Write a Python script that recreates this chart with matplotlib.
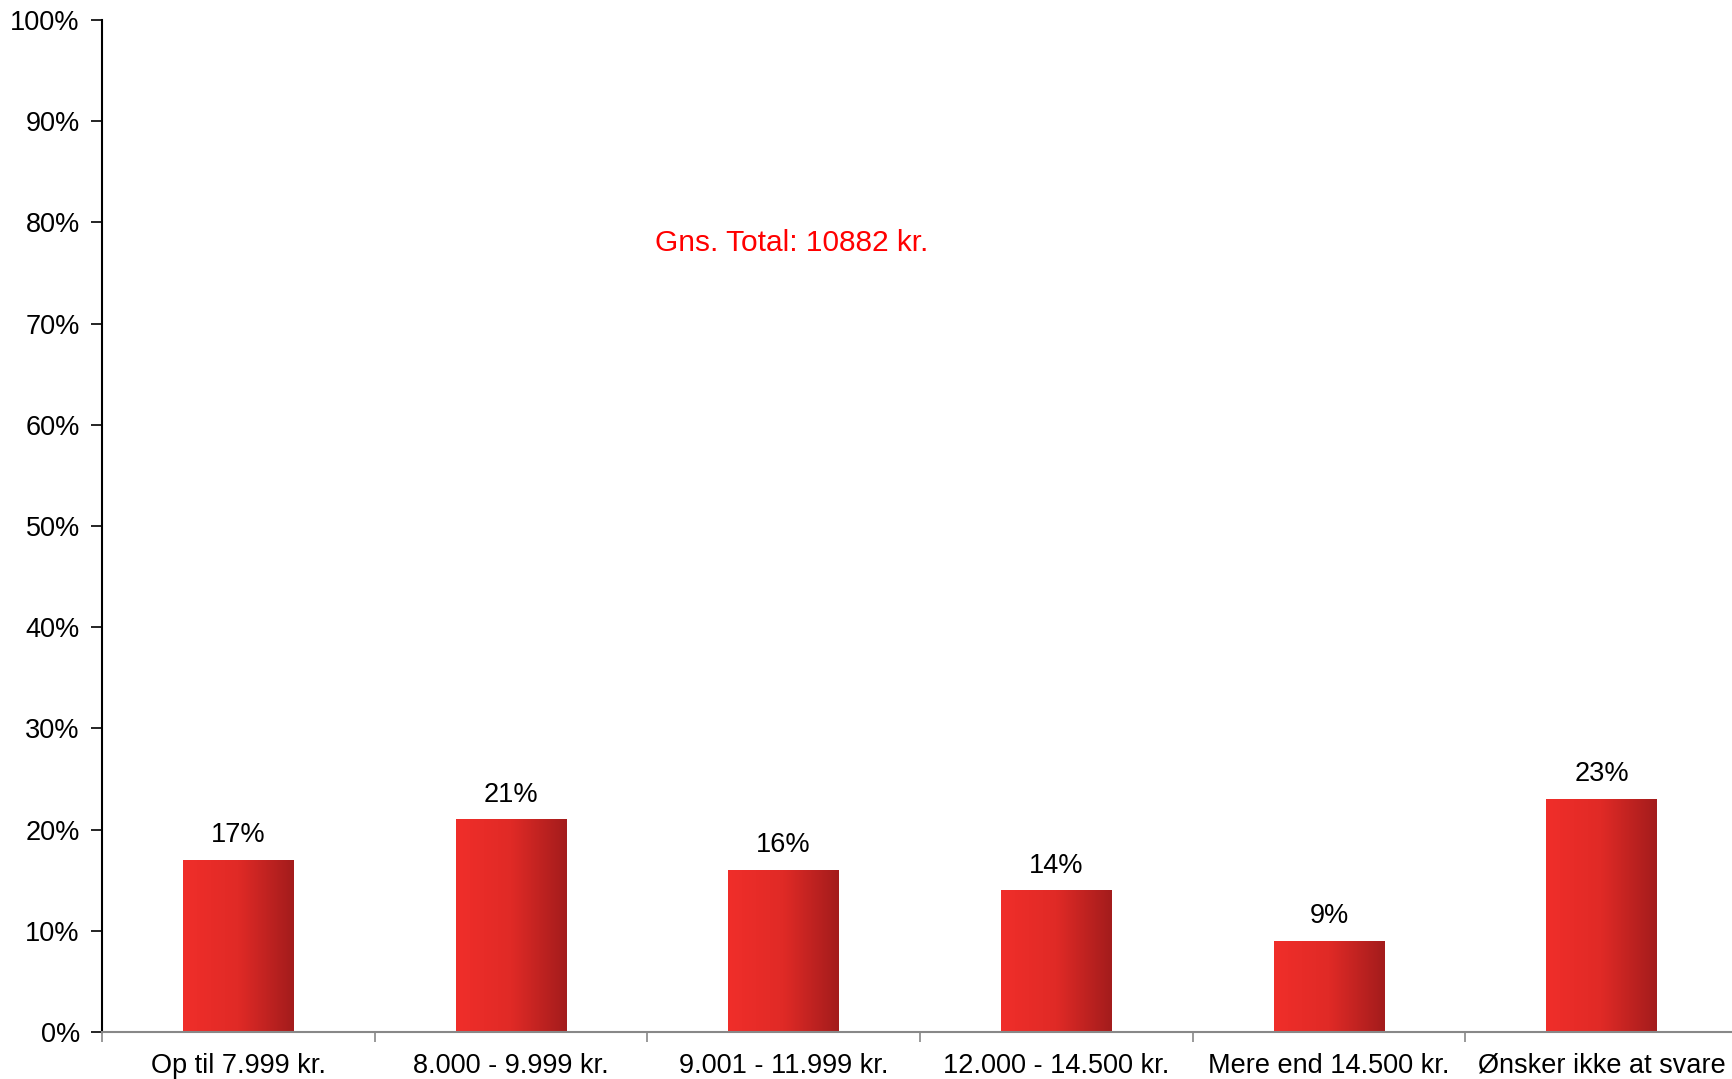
import matplotlib
matplotlib.use("Agg")
import matplotlib.pyplot as plt
import numpy as np
from matplotlib.colors import LinearSegmentedColormap

categories = ["Op til 7.999 kr.", "8.000 - 9.999 kr.", "9.001 - 11.999 kr.",
              "12.000 - 14.500 kr.", "Mere end 14.500 kr.", "Ønsker ikke at svare"]
values = [17, 21, 16, 14, 9, 23]
yticks = [0, 10, 20, 30, 40, 50, 60, 70, 80, 90, 100]
annotation = "Gns. Total: 10882 kr."

plt.rcParams['font.family'] = ['Liberation Sans', 'DejaVu Sans']

fig = plt.figure(figsize=(17.33, 10.79), dpi=100)
ax = fig.add_axes([102/1733, 47/1079, (1738 - 102)/1733, (1032-20)/1079])

x = np.arange(len(categories))
width = 0.405
bars = ax.bar(x, values, width=width, color='none', edgecolor='none', zorder=2)

cmap = LinearSegmentedColormap.from_list("redgrad", ["#f02e2a", "#e02a26", "#a31c1c"])
grad = np.linspace(0, 1, 256).reshape(1, -1)
for b in bars:
    x0, y0 = b.get_x(), b.get_y()
    w, h = b.get_width(), b.get_height()
    im = ax.imshow(grad, cmap=cmap, aspect='auto', extent=(x0, x0 + w, y0, y0 + h),
                   zorder=2, interpolation='bicubic')
    im.set_clip_path(b)

for xi, v in zip(x, values):
    ax.annotate(f"{v}%", (xi, v), xytext=(0, 8.5), textcoords='offset points',
                ha='center', va='bottom', fontsize=19.5, color='black')

ax.text(2.03, 78.0, annotation, color='#ff0000', fontsize=21.5, ha='center', va='center')

ax.set_xlim(-0.5, len(categories) - 0.5)
ax.set_ylim(0, 100)
ax.set_yticks(yticks)
ax.set_yticklabels([f"{t}%" for t in yticks], fontsize=19.5)
ax.tick_params(axis='y', direction='out', length=8, width=1.2, color='black', pad=8)

ax.set_xticks(x)
ax.set_xticklabels(categories, fontsize=19.5)
ax.set_xticks(np.arange(-0.5, len(categories) - 0.5, 1), minor=True)
ax.tick_params(axis='x', which='major', length=0, pad=15)
ax.tick_params(axis='x', which='minor', direction='out', length=7, width=1.2, color='#888888')

for s in ['top', 'right']:
    ax.spines[s].set_visible(False)
ax.spines['left'].set_color('black')
ax.spines['left'].set_linewidth(1.5)
ax.spines['bottom'].set_color('#888888')
ax.spines['bottom'].set_linewidth(1.5)

fig.savefig("out.png", dpi=100)
